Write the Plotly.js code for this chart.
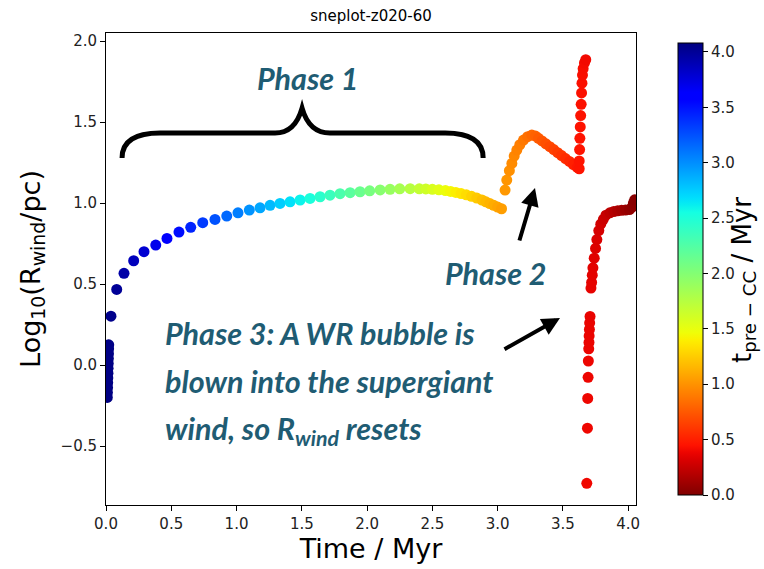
<!DOCTYPE html>
<html>
<head>
<meta charset="utf-8">
<script src="https://cdn.plot.ly/plotly-3.0.1.min.js"></script>
<style>html,body{margin:0;padding:0;background:#fff;}#chart{width:764px;height:569px;}</style>
</head>
<body>
<div id="chart"></div>
<script>
// ---- data ----
const timeMyr = [
  0.010,0.011,0.012,0.013,0.014,0.015,0.016,0.017,0.018,0.019,0.020,0.021,
  0.038,0.082,0.138,0.212,0.291,0.381,0.467,0.559,0.649,0.741,0.835,0.925,
  1.011,1.098,1.180,1.257,1.333,1.410,1.487,1.563,1.640,1.716,1.793,1.870,
  1.946,2.020,2.100,2.176,2.250,2.330,2.400,2.450,2.500,2.550,2.600,2.640,
  2.680,2.720,2.760,2.800,2.840,2.880,2.910,2.940,2.970,3.000,3.030,
  3.057,3.070,3.090,3.109,3.127,3.147,3.170,3.198,3.230,3.262,3.290,3.313,
  3.340,3.370,3.400,3.430,3.460,3.490,3.520,3.550,3.580,3.610,3.625,
  3.625,3.628,3.630,3.633,3.636,3.640,3.643,3.646,3.650,3.655,3.665,3.675,
  3.683,3.688,3.690,3.693,3.695,3.698,3.700,3.701,3.703,3.705,3.708,
  3.715,3.720,3.725,3.730,3.740,3.750,3.760,3.775,3.790,3.810,3.830,3.860,
  3.890,3.920,3.950,3.980,4.010,4.030,4.040,4.050
];
const log10Rwind = [
  -0.200,-0.170,-0.140,-0.110,-0.080,-0.050,-0.020,0.010,0.040,0.070,0.100,0.125,
  0.302,0.467,0.566,0.644,0.700,0.741,0.782,0.821,0.850,0.879,0.899,0.920,
  0.940,0.957,0.971,0.986,0.998,1.008,1.019,1.029,1.039,1.049,1.058,1.064,
  1.070,1.076,1.081,1.085,1.088,1.089,1.088,1.087,1.085,1.082,1.077,1.072,
  1.066,1.059,1.051,1.042,1.031,1.019,1.008,0.997,0.986,0.975,0.965,
  1.080,1.142,1.200,1.245,1.290,1.327,1.360,1.389,1.410,1.420,1.414,1.400,
  1.384,1.366,1.348,1.330,1.311,1.293,1.275,1.257,1.238,1.220,1.212,
  1.260,1.330,1.400,1.470,1.540,1.610,1.680,1.740,1.790,1.830,1.865,1.885,
  -0.730,-0.390,-0.206,-0.076,0.025,0.100,0.140,0.180,0.220,0.260,0.300,
  0.475,0.510,0.555,0.600,0.660,0.720,0.775,0.830,0.870,0.900,0.925,0.940,
  0.948,0.952,0.955,0.957,0.960,0.975,1.000,1.020
];
const T_CC = 4.08;                       // time of core collapse (Myr)
const tPreCC = timeMyr.map(t => T_CC - t); // colour quantity: time before CC
const xTickVals = [0.0,0.5,1.0,1.5,2.0,2.5,3.0,3.5,4.0];
const yTickVals = [-0.5,0.0,0.5,1.0,1.5,2.0];
const cbTickVals = [0.0,0.5,1.0,1.5,2.0,2.5,3.0,3.5,4.0];

// matplotlib "jet" colormap, reversed (0 -> dark red, max -> dark blue)
const JET = {
  r: [[0,0],[0.35,0],[0.66,1],[0.89,1],[1,0.5]],
  g: [[0,0],[0.125,0],[0.375,1],[0.64,1],[0.91,0],[1,0]],
  b: [[0,0.5],[0.11,1],[0.34,1],[0.65,0],[1,0]]
};
function seg(pts, v){
  for (let i=1;i<pts.length;i++){
    if (v <= pts[i][0]){
      const f = (v-pts[i-1][0])/(pts[i][0]-pts[i-1][0]);
      return pts[i-1][1] + f*(pts[i][1]-pts[i-1][1]);
    }
  }
  return pts[pts.length-1][1];
}
const jetR = [];
for (let i=0;i<=64;i++){
  const v = i/64, u = 1-v;
  const r = Math.round(255*seg(JET.r,u)), g = Math.round(255*seg(JET.g,u)), b = Math.round(255*seg(JET.b,u));
  jetR.push([v, `rgb(${r},${g},${b})`]);
}

const ANN = 'rgb(31,92,115)';
const annFont = {family: 'Lato, "Open Sans", sans-serif', size: 30.5, color: ANN};

const trace = {
  type: 'scatter', mode: 'markers',
  x: timeMyr, y: log10Rwind,
  marker: {
    size: 11, color: tPreCC, colorscale: jetR, cmin: 0, cmax: T_CC,
    line: {width: 0},
    colorbar: {
      x: 1.0604, xanchor: 'left', xref: 'paper',
      y: 0.5, yanchor: 'middle', len: 1, lenmode: 'fraction',
      thickness: 25, outlinewidth: 1, outlinecolor: '#000',
      ticks: 'outside', ticklen: 5, tickwidth: 1, tickcolor: '#000',
      tickvals: cbTickVals, tickformat: '.1f',
      tickfont: {family: 'DejaVu Sans', size: 15, color: '#222'}
    }
  },
  hoverinfo: 'x+y'
};

// brace (annotation drawing, in data coordinates)
const brace = 'M 0.123,1.278 Q 0.123,1.432 0.414,1.432 L 1.295,1.432 Q 1.448,1.432 1.502,1.586 ' +
              'Q 1.556,1.432 1.716,1.432 L 2.598,1.432 Q 2.889,1.432 2.889,1.278';

const layout = {
  width: 764, height: 569,
  margin: {l: 106, r: 128, t: 33, b: 64, pad: 0, autoexpand: false},
  paper_bgcolor: '#fff', plot_bgcolor: '#fff',
  showlegend: false,
  title: {text: 'sneplot-z020-60', x: 0.5, xref: 'paper', xanchor: 'center', y: 0.972, yref: 'container', yanchor: 'middle',
          font: {family: 'DejaVu Sans', size: 15, color: '#000'}},
  xaxis: {
    range: [0, 4.06], tickvals: xTickVals, tickformat: '.1f',
    showgrid: false, zeroline: false, showline: true, mirror: true, linecolor: '#000', linewidth: 1,
    ticks: 'outside', ticklen: 5, tickcolor: '#000',
    tickfont: {family: 'DejaVu Sans', size: 15, color: '#222'},
    title: {text: 'Time / Myr', standoff: 7, font: {family: 'DejaVu Sans', size: 27, color: '#000'}}
  },
  yaxis: {
    range: [-0.864, 2.05], tickvals: yTickVals, tickformat: '.1f',
    showgrid: false, zeroline: false, showline: true, mirror: true, linecolor: '#000', linewidth: 1,
    ticks: 'outside', ticklen: 5, tickcolor: '#000',
    tickfont: {family: 'DejaVu Sans', size: 15, color: '#222'},
    title: {text: 'Log<sub>10</sub>(R<sub>wind</sub>/pc)', standoff: 12, font: {family: 'DejaVu Sans', size: 27, color: '#000'}}
  },
  shapes: [
    {type: 'path', xref: 'x', yref: 'y', path: brace, line: {color: '#000', width: 5}, layer: 'above'}
  ],
  annotations: [
    {xref: 'paper', yref: 'paper', x: 0.381, y: 0.904, xanchor: 'center', yanchor: 'middle', showarrow: false,
     text: '<b><i>Phase 1</i></b>', font: annFont},
    {xref: 'paper', yref: 'paper', x: 0.736, y: 0.4915, xanchor: 'center', yanchor: 'middle', showarrow: false,
     text: '<b><i>Phase 2</i></b>', font: annFont},
    {xref: 'paper', yref: 'paper', x: 0.1075, y: 0.364, xanchor: 'left', yanchor: 'middle', showarrow: false,
     text: '<b><i>Phase 3: A WR bubble is</i></b>', font: annFont},
    {xref: 'paper', yref: 'paper', x: 0.1075, y: 0.263, xanchor: 'left', yanchor: 'middle', showarrow: false,
     text: '<b><i>blown into the supergiant</i></b>', font: annFont},
    {xref: 'paper', yref: 'paper', x: 0.1075, y: 0.157, xanchor: 'left', yanchor: 'middle', showarrow: false,
     text: '<b><i>wind, so R<sub>wind</sub> resets</i></b>', font: annFont},
    {xref: 'paper', yref: 'paper', x: 0.8094, y: 0.6716, text: '', showarrow: true,
     ax: -16, ay: 54, arrowhead: 2, arrowsize: 0.9, arrowwidth: 4, arrowcolor: '#000', standoff: 0},
    {xref: 'paper', yref: 'paper', x: 0.8566, y: 0.3962, text: '', showarrow: true,
     ax: -57, ay: 32, arrowhead: 2, arrowsize: 0.9, arrowwidth: 4, arrowcolor: '#000', standoff: 0},
    // colour-bar title
    {xref: 'paper', yref: 'paper', x: 1.2038, y: 0.4767, xanchor: 'center', yanchor: 'middle', showarrow: false,
     textangle: -90, text: 't<sub>pre − CC</sub> / Myr',
     font: {family: 'DejaVu Sans', size: 26, color: '#000'}}
  ]
};

Plotly.newPlot('chart', [trace], layout, {displayModeBar: false, staticPlot: true});
</script>
</body>
</html>
